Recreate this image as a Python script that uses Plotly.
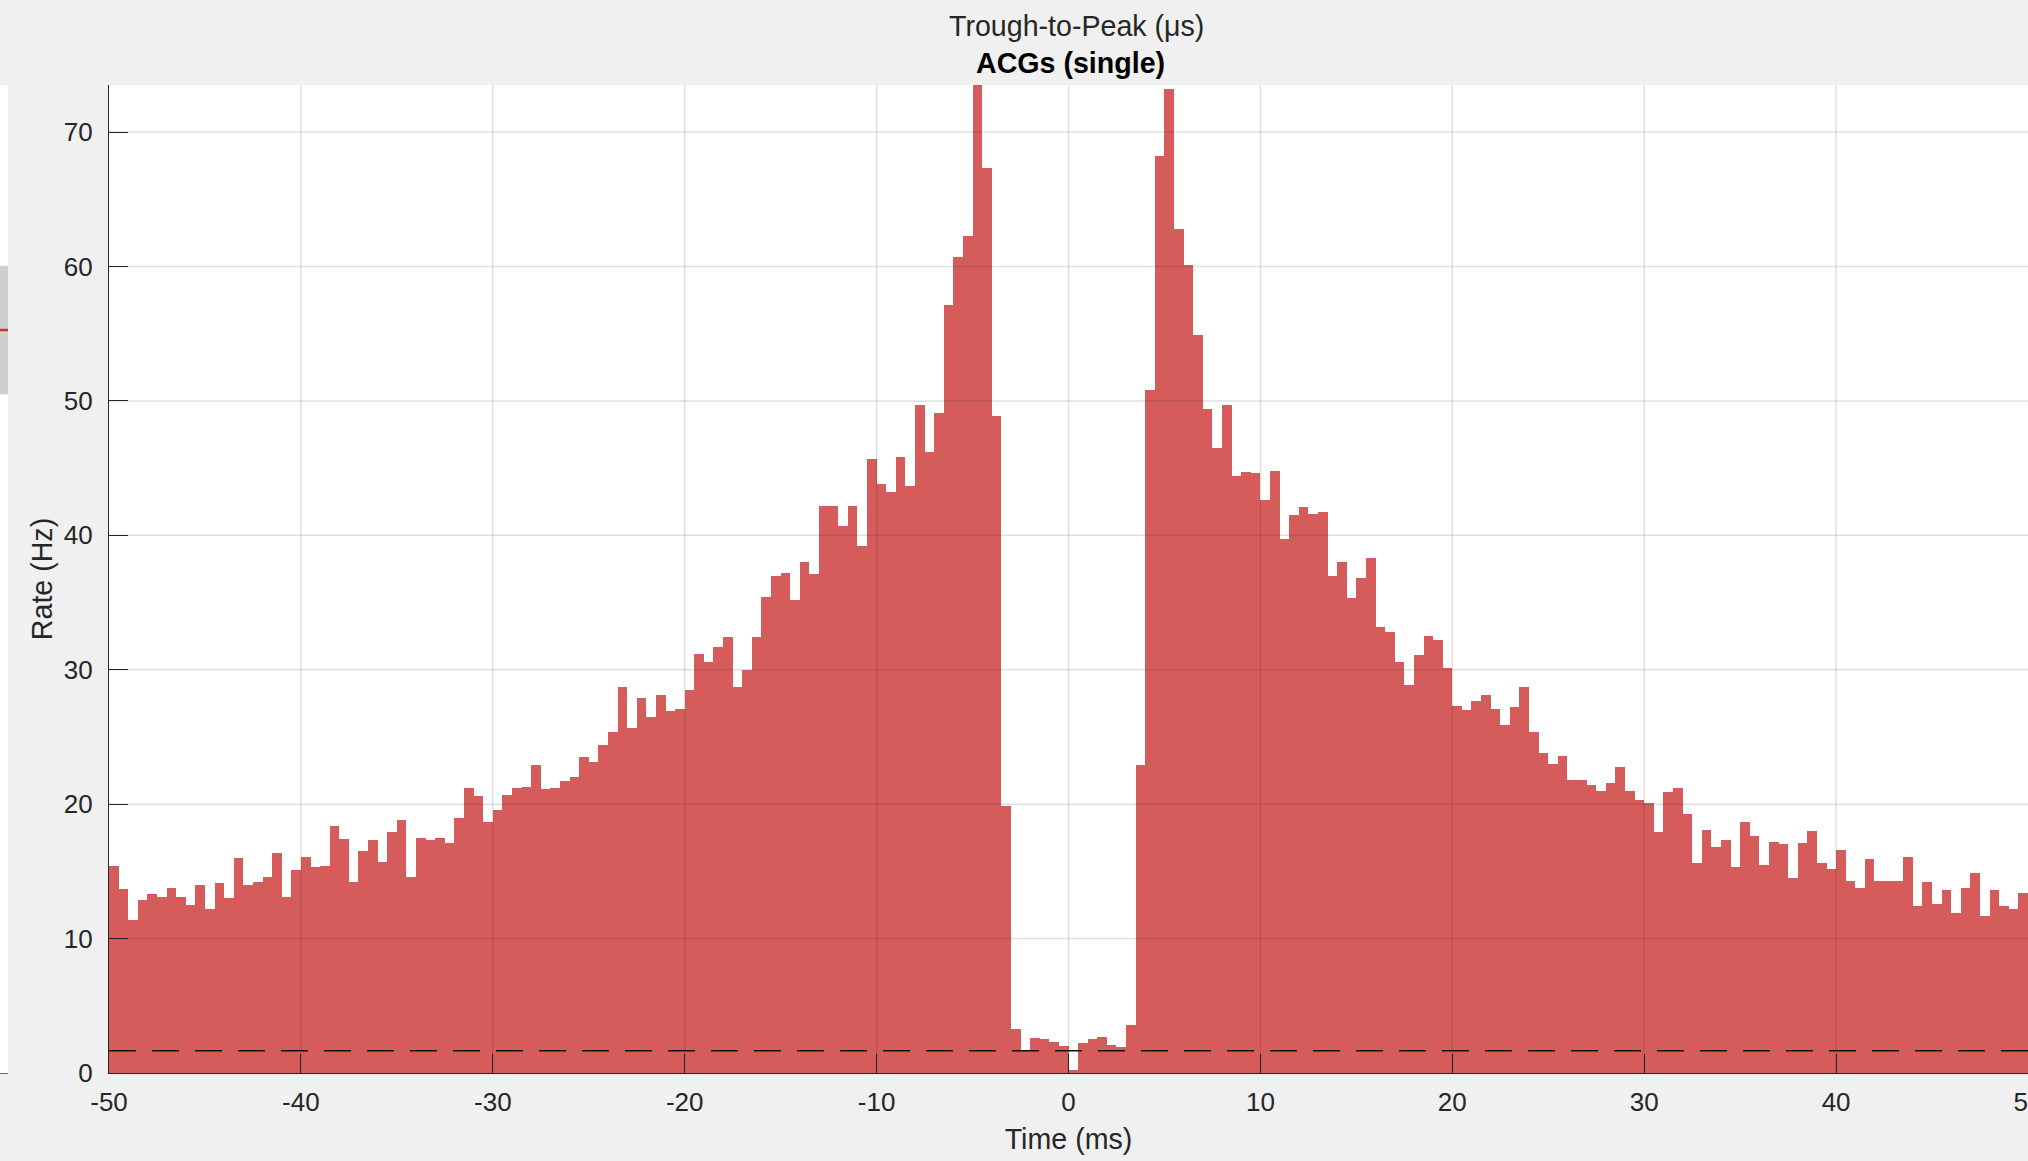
import numpy as np
import plotly.graph_objects as go

# ---------------- data ----------------
bin_start = -50.0
bin_width = 0.5

rate_neg = [  # bins from -50 ms to 0 ms
    15.4, 13.7, 11.4, 12.9, 13.3, 13.1, 13.8, 13.1, 12.5, 14.0, 12.2, 14.1, 13.0, 16.0, 14.0, 14.2, 14.6, 16.4, 13.1, 15.1, 16.1, 15.3, 15.4, 18.4, 17.4,
    14.2, 16.5, 17.3, 15.7, 17.9, 18.8, 14.6, 17.5, 17.3, 17.5, 17.1, 19.0, 21.2, 20.6, 18.7, 19.6, 20.7, 21.2, 21.3, 22.9, 21.1, 21.2, 21.7, 22.0, 23.5,
    23.1, 24.4, 25.4, 28.7, 25.7, 27.9, 26.5, 28.1, 26.9, 27.1, 28.5, 31.2, 30.6, 31.7, 32.4, 28.7, 30.0, 32.4, 35.4, 37.0, 37.2, 35.2, 38.0, 37.1, 42.2,
    42.2, 40.7, 42.2, 39.2, 45.7, 43.8, 43.2, 45.8, 43.7, 49.7, 46.2, 49.1, 57.1, 60.7, 62.3, 75.0, 67.3, 48.9, 19.9, 3.3, 1.6, 2.6, 2.5, 2.3, 2.0,
]
rate_pos = [  # bins from 0 ms to 50 ms
    0.2, 2.2, 2.5, 2.7, 2.1, 1.9, 3.6, 22.9, 50.8, 68.2, 73.2, 62.8, 60.1, 54.9, 49.4, 46.5, 49.7, 44.4, 44.7, 44.6, 42.6, 44.8, 39.7, 41.5, 42.1,
    41.6, 41.7, 37.0, 38.0, 35.3, 36.8, 38.3, 33.2, 32.8, 30.6, 28.9, 31.1, 32.5, 32.2, 30.1, 27.3, 27.0, 27.7, 28.1, 27.1, 25.9, 27.2, 28.7, 25.4, 23.8,
    23.0, 23.6, 21.8, 21.8, 21.4, 21.0, 21.6, 22.8, 21.0, 20.3, 20.1, 17.9, 20.9, 21.2, 19.3, 15.6, 18.1, 16.8, 17.3, 15.3, 18.7, 17.6, 15.5, 17.2, 17.0,
    14.5, 17.1, 18.0, 15.6, 15.2, 16.6, 14.3, 13.8, 15.9, 14.3, 14.3, 14.3, 16.1, 12.4, 14.2, 12.6, 13.6, 11.9, 13.8, 14.9, 11.7, 13.6, 12.4, 12.2, 13.4,
]
baseline_rate = 1.65

x_ticks = [-50, -40, -30, -20, -10, 0, 10, 20, 30, 40, 50]
x_tick_labels = ["-50", "-40", "-30", "-20", "-10", "0", "10", "20", "30", "40", "50"]
y_ticks = [0, 10, 20, 30, 40, 50, 60, 70]
y_tick_labels = ["0", "10", "20", "30", "40", "50", "60", "70"]

# neighbouring (cut-off) box plot panel, in its own 0-100 units
nb_q1, nb_median, nb_q3 = 68.7, 75.2, 81.7

# ---------------- figure ----------------
rates = rate_neg + rate_pos
centers = bin_start + bin_width * (np.arange(len(rates)) + 0.5)

FONT = "Liberation Sans, Arial, Helvetica, sans-serif"
AX = "#262626"
W, H = 2028, 1161

fig = go.Figure()
fig.add_trace(go.Bar(
    x=centers, y=rates, width=bin_width,
    marker=dict(color="rgba(204,51,51,0.8)", line=dict(width=0)),
    hoverinfo="x+y", showlegend=False,
))
fig.add_trace(go.Scatter(
    x=[x_ticks[0], x_ticks[-1]], y=[baseline_rate, baseline_rate],
    mode="lines", line=dict(color="#111111", width=1.6, dash="27px,16px"),
    showlegend=False, hoverinfo="skip",
))
# empty trace for the neighbouring panel
fig.add_trace(go.Scatter(x=[], y=[], xaxis="x2", yaxis="y2", showlegend=False))

shapes = []
for v in x_ticks[1:-1]:
    shapes.append(dict(type="line", xref="x", yref="y domain", x0=v, x1=v, y0=0, y1=1,
                       line=dict(color="rgba(38,38,38,0.15)", width=1.5), layer="above"))
for v in y_ticks[1:]:
    shapes.append(dict(type="line", xref="x domain", yref="y", x0=0, x1=1, y0=v, y1=v,
                       line=dict(color="rgba(38,38,38,0.15)", width=1.5), layer="above"))
# neighbouring box
shapes.append(dict(type="rect", xref="x2 domain", yref="y2", x0=0, x1=1, y0=nb_q1, y1=nb_q3,
                   fillcolor="#cfcfcf", line=dict(width=0), layer="above"))
shapes.append(dict(type="line", xref="x2 domain", yref="y2", x0=0, x1=1, y0=nb_median, y1=nb_median,
                   line=dict(color="#d62d2d", width=2.5), layer="above"))

left = 109 / W
fig.update_layout(
    width=W, height=H,
    paper_bgcolor="#f0f0f0", plot_bgcolor="#ffffff",
    margin=dict(l=0, r=0, t=85, b=88, autoexpand=False),
    bargap=0,
    font=dict(family=FONT, color=AX),
    shapes=shapes,
    xaxis=dict(
        domain=[left, 1], range=[x_ticks[0], x_ticks[-1]], anchor="y", automargin=False,
        tickmode="array", tickvals=x_ticks, ticktext=x_tick_labels, ticklabeloverflow="allow",
        ticks="inside", ticklen=19, tickwidth=1.3, tickcolor=AX,
        showline=True, linecolor=AX, linewidth=1.3, mirror=False,
        showgrid=False, zeroline=False, layer="above traces",
        tickfont=dict(size=26, color=AX, family=FONT), ticklabelstandoff=6,
        title=dict(text="Time (ms)", font=dict(size=28.6, color=AX, family=FONT), standoff=12),
    ),
    yaxis=dict(
        domain=[0, 1], range=[0, 73.5], anchor="x", automargin=False,
        tickmode="array", tickvals=y_ticks, ticktext=y_tick_labels,
        ticks="inside", ticklen=19, tickwidth=1.3, tickcolor=AX,
        showline=True, linecolor=AX, linewidth=1.3, mirror=False,
        showgrid=False, zeroline=False, layer="above traces",
        tickfont=dict(size=26, color=AX, family=FONT), ticklabelstandoff=10,
        title=dict(text="Rate (Hz)", font=dict(size=28.6, color=AX, family=FONT), standoff=2),
    ),
    xaxis2=dict(domain=[0, 8 / W], range=[0, 1], anchor="y2", showticklabels=False, automargin=False,
                ticks="", showgrid=False, zeroline=False, showline=True, linecolor="#6a6a6a", linewidth=1.3),
    yaxis2=dict(domain=[0, 1], range=[0, 100], anchor="x2", showticklabels=False, automargin=False,
                ticks="", showgrid=False, zeroline=False, showline=False),
    annotations=[
        dict(text="Trough-to-Peak (μs)", xref="x domain", yref="paper", x=0.504, y=(1073 - 26) / 988,
             xanchor="center", yanchor="middle", showarrow=False,
             font=dict(size=28.6, color=AX, family=FONT)),
        dict(text="<b>ACGs (single)</b>", xref="x domain", yref="paper", x=0.501, y=(1073 - 63) / 988,
             xanchor="center", yanchor="middle", showarrow=False,
             font=dict(size=28.6, color="#000000", family=FONT)),
    ],
)

fig.write_html(
    "out.html",
    config={"displayModeBar": False},
    post_script="document.body.style.margin='0';document.body.style.overflow='hidden';"
                "document.documentElement.style.overflow='hidden';",
)
